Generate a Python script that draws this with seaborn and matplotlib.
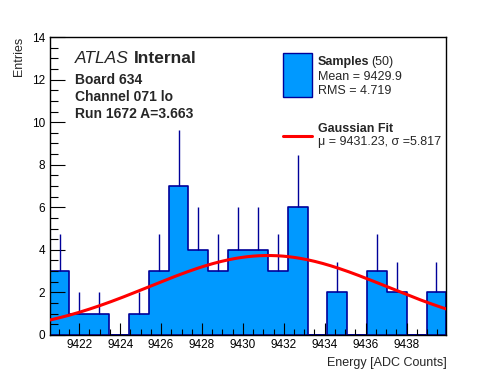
import numpy as np
import pandas as pd
import matplotlib.pyplot as plt
from matplotlib.patches import Rectangle
from matplotlib.lines import Line2D
from matplotlib.ticker import MultipleLocator
import seaborn as sns

# histogram contents (20 bins)
counts = [3, 1, 1, 0, 1, 3, 7, 4, 3, 4, 4, 3, 6, 0, 2, 0, 3, 2, 0, 2]
x_lo, x_hi = 9420.55, 9439.95
n_samples = 50
mean_val = 9429.9
rms_val = 4.719

# gaussian fit parameters
fit_mu = 9431.23
fit_sigma = 5.817
fit_amp = 3.73

board = "Board 634"
channel = "Channel 071 lo"
run = "Run 1672 A=3.663"

FILL = "#0099ff"
EDGE = "#000099"

sns.set_style("ticks")
plt.rcParams["font.family"] = ["Liberation Sans", "DejaVu Sans"]

W, H = 496, 372
fig = plt.figure(figsize=(W / 100, H / 100), dpi=100)
ax = fig.add_axes([0.1, 0.1, 0.8, 0.8])

nb = len(counts)
edges = np.linspace(x_lo, x_hi, nb + 1)
centers = (edges[:-1] + edges[1:]) / 2
df = pd.DataFrame({"energy": centers, "n": counts})

sns.histplot(data=df, x="energy", weights="n", bins=nb, binrange=(x_lo, x_hi),
             element="step", fill=True, color=FILL, alpha=1, edgecolor=EDGE,
             linewidth=1.2, ax=ax, zorder=2)

# upper halves of the poisson error bars
err = df[df["n"] > 0]
ax.vlines(err["energy"], err["n"], err["n"] + np.sqrt(err["n"]),
          color=EDGE, linewidth=1.0, zorder=3)

# fit curve
xs = np.linspace(x_lo, x_hi, 200)
fit = pd.DataFrame({"x": xs,
                    "y": fit_amp * np.exp(-0.5 * ((xs - fit_mu) / fit_sigma) ** 2)})
sns.lineplot(data=fit, x="x", y="y", color="red", linewidth=2.2, ax=ax, zorder=4)

ax.set_axisbelow(False)
ax.set_xlim(x_lo, x_hi)
ax.set_ylim(0, 14)
ax.xaxis.set_major_locator(MultipleLocator(2))
ax.xaxis.set_minor_locator(MultipleLocator(0.5))
ax.yaxis.set_major_locator(MultipleLocator(2))
ax.yaxis.set_minor_locator(MultipleLocator(0.5))
ax.tick_params(which="both", direction="in", top=False, right=False,
               labelsize=8.5, colors="black", pad=3, width=0.8)
ax.tick_params(axis="y", which="major", length=11)
ax.tick_params(axis="y", which="minor", length=5.5)
ax.tick_params(axis="x", which="major", length=9)
ax.tick_params(axis="x", which="minor", length=4.5)
for s in ax.spines.values():
    s.set_visible(True)
    s.set_color("black")
    s.set_linewidth(1.0)
ax.set_xlabel("Energy [ADC Counts]", loc="right", fontsize=9, labelpad=4)
ax.set_ylabel("Entries", loc="top", fontsize=9, labelpad=5)


def px(x, y):
    return x / W, 1 - y / H


# labels top-left
fig.text(*px(75, 63), "ATLAS", fontsize=12.5, style="italic")
fig.text(*px(134, 63), "Internal", fontsize=12.5, weight="bold")
fig.text(*px(75, 83.5), board, fontsize=10, weight="bold")
fig.text(*px(75, 101), channel, fontsize=10, weight="bold")
fig.text(*px(75, 118), run, fontsize=10, weight="bold")

# legend
x0, y0 = px(283.3, 96.7)
x1, y1 = px(311.7, 53.3)
fig.add_artist(Rectangle((x0, y0), x1 - x0, y1 - y0, transform=fig.transFigure,
                         facecolor=FILL, edgecolor=EDGE, linewidth=1.0))
fig.text(*px(317.7, 65), "Samples", fontsize=9, weight="bold")
fig.text(*px(371, 65), f"({n_samples})", fontsize=9)
fig.text(*px(317.7, 80), f"Mean = {mean_val}", fontsize=9)
fig.text(*px(317.7, 93.5), f"RMS = {rms_val}", fontsize=9)

lx0, ly = px(283.3, 136)
lx1, _ = px(311.7, 136)
fig.add_artist(Line2D([lx0, lx1], [ly, ly], transform=fig.transFigure,
                      color="red", linewidth=2.2))
fig.text(*px(317.7, 132.5), "Gaussian Fit", fontsize=9, weight="bold")
fig.text(*px(317.7, 145.5), f"\u03bc = {fit_mu}, \u03c3 ={fit_sigma}", fontsize=9)

fig.savefig("out.png", dpi=100)
